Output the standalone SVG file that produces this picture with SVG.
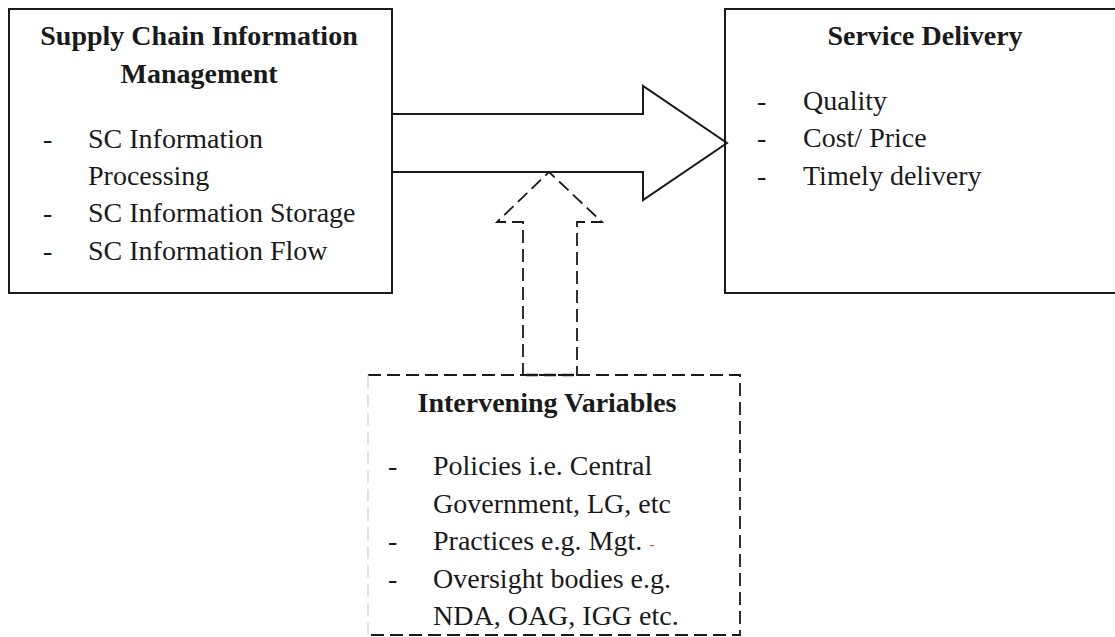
<svg xmlns="http://www.w3.org/2000/svg" width="1115" height="637" viewBox="0 0 1115 637">
<style>
.box{fill:none;stroke:#1a1a1a;stroke-width:2}
.dash{fill:none;stroke:#1a1a1a;stroke-width:1.8;stroke-dasharray:13 6}
.t{font-family:"Liberation Serif","Times New Roman",serif;font-size:28px;fill:#1a1a1a}
.b{font-weight:bold}
.c{text-anchor:middle}
</style>
<rect width="1115" height="637" fill="#fff"/>
<g id="connectors">
<polygon class="box" fill="#fff" points="392,114 643,114 643,86 727,143 643,200 643,172 392,172"/>
<path class="dash" d="M523,376 V222 H497 L549,172 L602,222 H577 V376"/>
</g>
<g id="node-scim">
<rect class="box" x="9" y="9" width="383" height="284"/>
<text class="t b c" x="199" y="45">Supply Chain Information</text>
<text class="t b c" x="199" y="83">Management</text>
<text class="t" x="43" y="148">-</text>
<text class="t" x="88" y="148">SC Information</text>
<text class="t" x="88" y="185">Processing</text>
<text class="t" x="43" y="222">-</text>
<text class="t" x="88" y="222">SC Information Storage</text>
<text class="t" x="43" y="260">-</text>
<text class="t" x="88" y="260">SC Information Flow</text>
</g>
<g id="node-service">
<rect class="box" x="725" y="9" width="400" height="284"/>
<text class="t b c" x="925" y="45">Service Delivery</text>
<text class="t" x="757" y="110">-</text>
<text class="t" x="803" y="110">Quality</text>
<text class="t" x="757" y="147">-</text>
<text class="t" x="803" y="147">Cost/ Price</text>
<text class="t" x="757" y="185">-</text>
<text class="t" x="803" y="185">Timely delivery</text>
</g>
<g id="node-intervening">
<path class="dash" d="M368,375 H740 V635 H368"/>
<path d="M526,375 H574" fill="none" stroke="#1a1a1a" stroke-width="2.6" stroke-dasharray="12 6"/>
<path d="M368,375 V635" fill="none" stroke="#d0d0d0" stroke-width="1.2" stroke-dasharray="13 6"/>
<text class="t b c" x="547" y="412">Intervening Variables</text>
<text class="t" x="388" y="475">-</text>
<text class="t" x="433" y="475">Policies i.e. Central</text>
<text class="t" x="433" y="513">Government, LG, etc</text>
<text class="t" x="388" y="550">-</text>
<text class="t" x="433" y="550">Practices e.g. Mgt. <tspan fill="#c0603a" font-size="16">-</tspan></text>
<text class="t" x="388" y="588">-</text>
<text class="t" x="433" y="588">Oversight bodies e.g.</text>
<text class="t" x="433" y="625">NDA, OAG, IGG etc.</text>
</g>
</svg>
